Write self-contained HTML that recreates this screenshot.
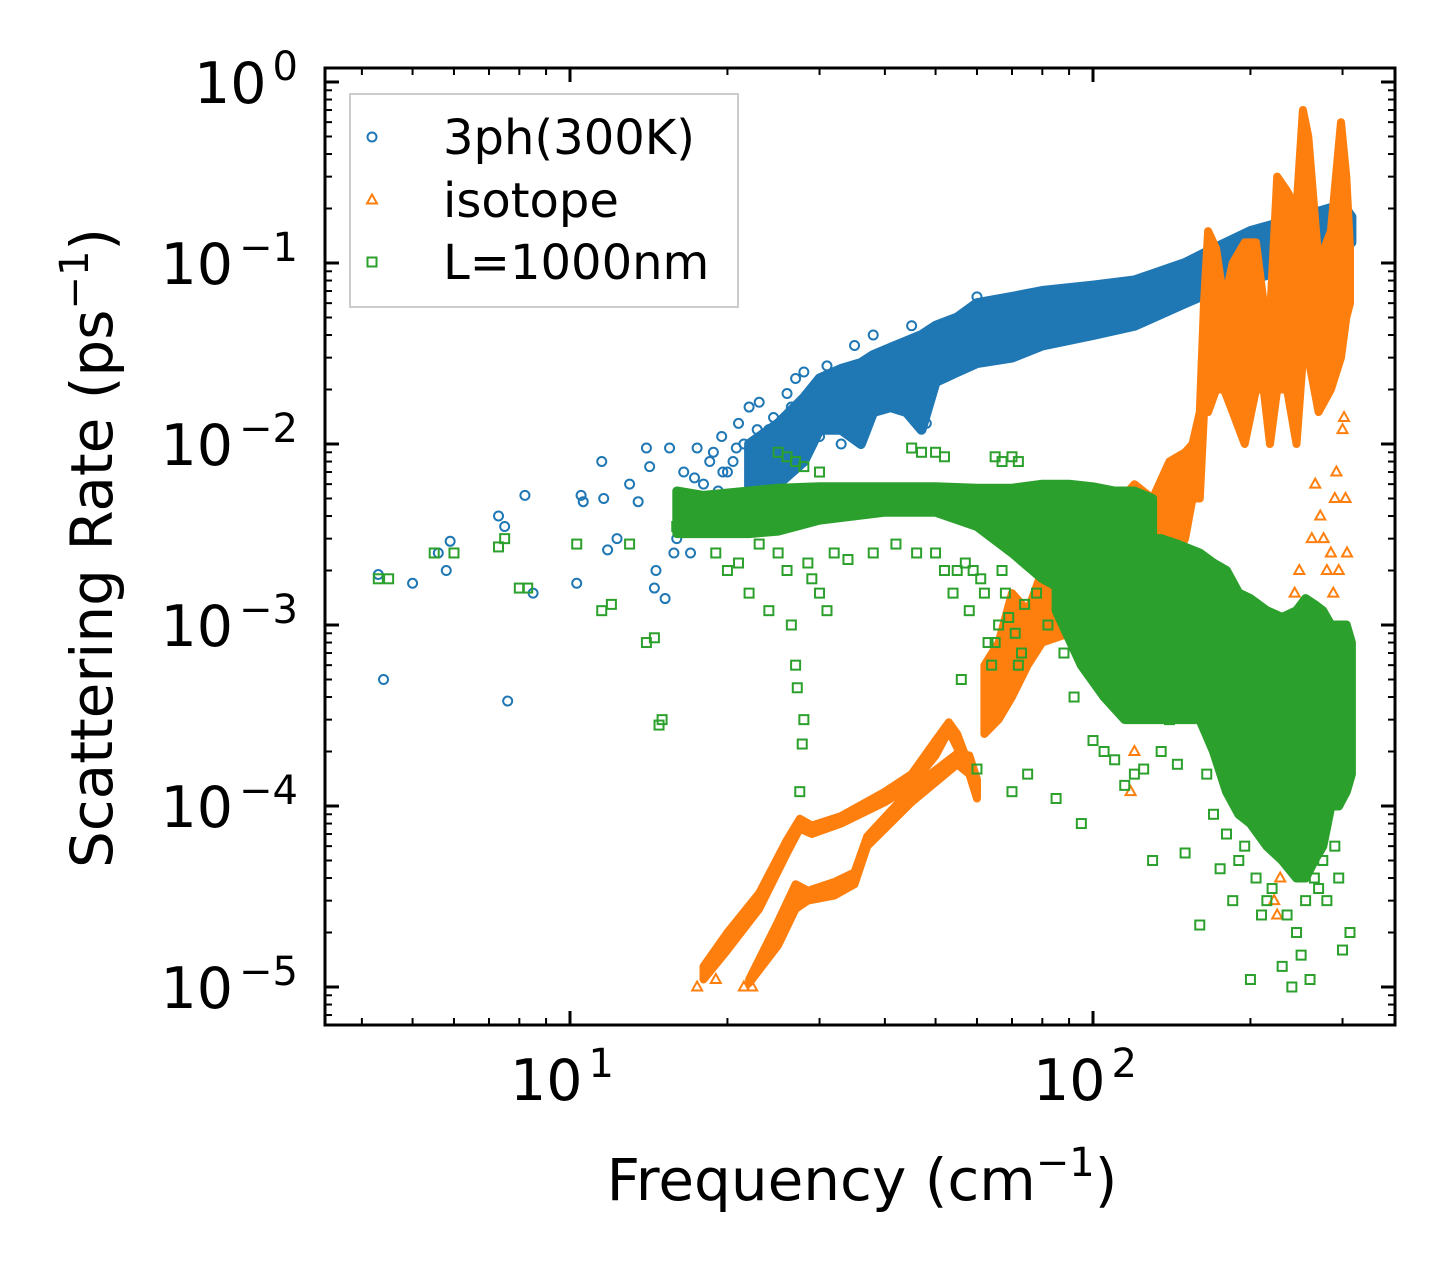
<!DOCTYPE html>
<html><head><meta charset="utf-8"><style>
html,body{margin:0;padding:0;background:#fff}
svg text{font-family:"DejaVu Sans","Liberation Sans",sans-serif;fill:#000}
</style></head><body>
<svg id="chart" width="1455" height="1275" viewBox="0 0 1455 1275" xmlns="http://www.w3.org/2000/svg">
<g id="layers"></g><g id="axes"></g>
</svg>
<script>
// ---- data ----
const blueFreq=[4.3,4.4,5,5.6,5.8,5.9,7.3,7.6,7.5,8.2,8.5,10.3,10.5,10.6,11.5,11.6,11.8,12.3,13.0,13.5,14,14.2,14.5,14.6,15.2,15.5,16,16.5,17.5,17,18,18.5,19,19.5,20,21,19.8,22,23,24,26,27,28,30,31,33,35,36,38,45,48,60,16.8,17.3,18.3,18.8,19.2,20.5,21.5,22.5,23.5,24.5,25.5,26.5,27.5,28.5,29.5,16.2,15.8,17.8,19.6,20.8,21.8,22.8,23.8];
const blueRate=[1.9e-3,5e-4,1.7e-3,2.5e-3,2e-3,2.9e-3,4e-3,3.8e-4,3.5e-3,5.2e-3,1.5e-3,1.7e-3,5.2e-3,4.8e-3,8e-3,5e-3,2.6e-3,3e-3,6e-3,4.8e-3,9.5e-3,7.5e-3,1.6e-3,2e-3,1.4e-3,9.5e-3,3e-3,7e-3,9.5e-3,2.5e-3,6e-3,8e-3,4e-3,1.1e-2,7e-3,1.3e-2,3.5e-3,1.6e-2,1.7e-2,1.2e-2,1.9e-2,2.3e-2,2.5e-2,1.1e-2,2.7e-2,1.0e-2,3.5e-2,1.1e-2,4e-2,4.5e-2,1.3e-2,6.5e-2,4e-3,6.5e-3,3.5e-3,9e-3,5.5e-3,8e-3,1e-2,6e-3,9e-3,1.4e-2,1.1e-2,1.6e-2,1.3e-2,1.8e-2,2e-2,3.5e-3,2.5e-3,4.5e-3,7e-3,9.5e-3,5e-3,1.2e-2,8e-3];
const blueBandF=[22,25,28,30,33,36,38,41,44,47,50,55,60,70,80,100,120,150,170,200,250,300,312];
const blueBandLo=[5e-3,6e-3,8e-3,1.2e-2,1.2e-2,1.0e-2,1.5e-2,1.6e-2,1.5e-2,1.2e-2,2.2e-2,2.5e-2,2.8e-2,3e-2,3.5e-2,4e-2,4.5e-2,6e-2,7e-2,8e-2,1e-1,1.2e-1,1.3e-1];
const blueBandHi=[1.0e-2,1.3e-2,1.8e-2,2.3e-2,2.6e-2,2.8e-2,3.1e-2,3.4e-2,3.7e-2,4e-2,4.5e-2,5e-2,6e-2,6.5e-2,7e-2,7.5e-2,8e-2,1e-1,1.2e-1,1.5e-1,1.8e-1,2.1e-1,1.8e-1];

const orgFreq=[17.5,18.2,19,21.5,22.3,120,140,150,225,228,232,236,240,245,260,265,270,285,290,295,300,305,306,222,226,229,234,238,243,248,262,266,272,276,280,288,292,302,304,118];
const orgRate=[1e-5,1.3e-5,1.1e-5,1e-5,1e-5,2e-4,5e-4,1.5e-3,2.5e-5,4e-5,8e-5,2e-4,5e-4,1e-3,1e-3,4e-4,2e-4,2.5e-3,5e-3,2e-3,1.2e-2,8e-4,2.5e-3,3e-5,6e-5,1.2e-4,3e-4,7e-4,1.5e-3,2e-3,3e-3,6e-3,4e-3,3e-3,2e-3,1.5e-3,7e-3,1.4e-2,5e-3,1.2e-4];
const orgBandAF=[18,20,23,26,27.5,29,33,40,45,50,53,55,57];
const orgBandALo=[1.1e-5,1.6e-5,2.7e-5,5.5e-5,7.5e-5,7e-5,8e-5,1.05e-4,1.3e-4,1.9e-4,2.6e-4,2.1e-4,1.6e-4];
const orgBandAHi=[1.3e-5,2e-5,3.3e-5,6.5e-5,8.5e-5,7.8e-5,8.8e-5,1.2e-4,1.5e-4,2.3e-4,2.9e-4,2.5e-4,1.9e-4];
const orgBandBF=[22,25,27,28.5,32,35,37,45,55,58,60];
const orgBandBLo=[1.05e-5,1.7e-5,2.7e-5,3e-5,3.2e-5,3.7e-5,6e-5,1.05e-4,1.7e-4,1.5e-4,1.1e-4];
const orgBandBHi=[1.1e-5,2.3e-5,3.7e-5,3.4e-5,3.8e-5,4.3e-5,6.8e-5,1.25e-4,1.95e-4,1.9e-4,1.4e-4];
const orgBandCF=[62,66,70,75,80,90,100,110,120,130,140,150,155,160,163,166,172,178,185,195,205,212,218,225,235,245,252,258,270,285,298,305,310];
const orgBandCLo=[2.5e-4,3e-4,4e-4,6e-4,8e-4,9e-4,1e-3,1.2e-3,1.5e-3,1.8e-3,2e-3,3e-3,5e-3,5e-3,1.5e-2,1.5e-2,2e-2,2e-2,1.5e-2,1e-2,2e-2,2e-2,1e-2,2e-2,2e-2,1e-2,3e-2,3e-2,1.5e-2,2e-2,3e-2,5e-2,6e-2];
const orgBandCHi=[6e-4,8e-4,1.5e-3,1.2e-3,2e-3,2.5e-3,4e-3,4.5e-3,6e-3,5e-3,8e-3,9e-3,1e-2,1.5e-2,6e-2,1.5e-1,1.2e-1,6e-2,1e-1,1.3e-1,1.3e-1,6e-2,5e-2,3e-1,2.5e-1,2e-1,7e-1,5e-1,1e-1,1.5e-1,6e-1,3e-1,1.2e-1];

const grnFreq=[4.3,4.5,5.5,6,7.3,7.5,8,8.3,10.3,11.5,12,13,14,14.5,14.8,15,16,20,22,24,26.5,27,27.2,27.5,27.8,28,29,30,31,56,60,62,65,70,72,75,85,95,100,115,120,130,150,160,175,185,200,210,230,240,250,260,280,300,310,
  19,21,23,25,26,28.5,32,34,38,42,46,50,52,54,55,57,58,59,61,63,64,66,67,68,69,71,73,74,76,78,82,88,92,105,110,125,135,140,145,165,170,180,190,195,205,215,220,235,245,255,265,270,275,290,295];
const grnRate=[1.8e-3,1.8e-3,2.5e-3,2.5e-3,2.7e-3,3e-3,1.6e-3,1.6e-3,2.8e-3,1.2e-3,1.3e-3,2.8e-3,8e-4,8.5e-4,2.8e-4,3e-4,3.5e-3,2e-3,1.5e-3,1.2e-3,1e-3,6e-4,4.5e-4,1.2e-4,2.2e-4,3e-4,1.8e-3,1.5e-3,1.2e-3,5e-4,1.6e-4,1.5e-3,8e-4,1.2e-4,6e-4,1.5e-4,1.1e-4,8e-5,2.3e-4,1.3e-4,1.5e-4,5e-5,5.5e-5,2.2e-5,4.5e-5,3e-5,1.1e-5,2.5e-5,1.3e-5,1e-5,1.5e-5,1.1e-5,3e-5,1.6e-5,2e-5,
  2.5e-3,2.2e-3,2.8e-3,2.5e-3,2e-3,2.2e-3,2.5e-3,2.3e-3,2.5e-3,2.8e-3,2.5e-3,2.5e-3,2e-3,1.5e-3,2e-3,2.2e-3,1.2e-3,2e-3,1.8e-3,8e-4,6e-4,1e-3,2e-3,1.5e-3,1.1e-3,9e-4,7e-4,1.3e-3,2.5e-3,1.5e-3,1e-3,7e-4,4e-4,2e-4,1.8e-4,1.6e-4,2e-4,3e-4,1.7e-4,1.5e-4,9e-5,7e-5,5e-5,6e-5,4e-5,3e-5,3.5e-5,2.5e-5,2e-5,3e-5,4e-5,3.5e-5,5e-5,6e-5,4e-5];
const grnBandAF=[16,18,22,25,30,40,50,60,70,80,90,100,110,120,130];
const grnBandALo=[3.2e-3,3.2e-3,3.2e-3,3.3e-3,3.8e-3,4.2e-3,4.2e-3,3.5e-3,2.5e-3,1.8e-3,1.5e-3,1.2e-3,1e-3,1e-3,1e-3];
const grnBandAHi=[5.5e-3,5.2e-3,5.5e-3,5.7e-3,5.8e-3,5.8e-3,5.8e-3,5.7e-3,5.7e-3,6e-3,6e-3,5.8e-3,5.5e-3,5.5e-3,5e-3];
const grnBandBF=[85,95,105,115,125,135,145,160,170,180,190,200,215,230,245,255,265,275,285,295,305,312];
const grnBandBLo=[1.2e-3,6e-4,4e-4,3e-4,3e-4,3e-4,3e-4,3e-4,2e-4,1.2e-4,9e-5,8e-5,6e-5,5e-5,4e-5,4e-5,5e-5,6e-5,1e-4,1e-4,1.2e-4,1.5e-4];
const grnBandBHi=[3e-3,3e-3,3e-3,3e-3,3e-3,3e-3,2.8e-3,2.5e-3,2.2e-3,2e-3,1.5e-3,1.4e-3,1.2e-3,1.1e-3,1.2e-3,1.4e-3,1.3e-3,1.2e-3,1e-3,1e-3,1e-3,8e-4];
const grnLineF=[25,26,27,28,30,45,47,50,52,65,67,70,72];
const grnLineR=[9e-3,8.5e-3,8e-3,7.5e-3,7e-3,9.5e-3,9e-3,9e-3,8.5e-3,8.5e-3,8e-3,8.5e-3,8e-3];

const yTickExp=[0,-1,-2,-3,-4,-5];
const xTickExp=[1,2];

// ---- axes ----
const X0=325,X1=1395,Y0=68,Y1=1025;
const px=f=>570+523*(Math.log10(f)-1);
const py=r=>82-181*Math.log10(r);
const NS="http://www.w3.org/2000/svg";
function mk(tag,attrs,parent){const e=document.createElementNS(NS,tag);for(const k in attrs)e.setAttribute(k,attrs[k]);parent.appendChild(e);return e;}
const layers=document.getElementById('layers'),axes=document.getElementById('axes');

function band(F,Lo,Hi,color,name,sw){
  let d='';
  F.forEach((f,i)=>{d+=(i?'L':'M')+px(f).toFixed(1)+' '+py(Hi[i]).toFixed(1);});
  for(let i=F.length-1;i>=0;i--)d+='L'+px(F[i]).toFixed(1)+' '+py(Lo[i]).toFixed(1);
  const p=mk('path',{d:d+'Z',fill:color,stroke:color,'stroke-width':sw||9,'stroke-linejoin':'round'},layers);
  
  
}
function marker(type,x,y,color,parent){
  let e;
  if(type==='o')e=mk('circle',{cx:x,cy:y,r:4.5,fill:'none',stroke:color,'stroke-width':2},parent);
  else if(type==='s')e=mk('rect',{x:x-4.5,y:y-4.5,width:9,height:9,fill:'none',stroke:color,'stroke-width':2},parent);
  else e=mk('path',{d:`M${x} ${y-5.5}L${x+5} ${y+3.5}L${x-5} ${y+3.5}Z`,fill:'none',stroke:color,'stroke-width':2},parent);
  return e;
}
function scatter(F,R,type,color,name){
  const g=mk('g',{},layers);
  
  
  F.forEach((f,i)=>{const m=marker(type,px(f),py(R[i]),color,g);
    
    });
}
const BLUE='#1f77b4',ORG='#ff7f0e',GRN='#2ca02c';
band(blueBandF,blueBandLo,blueBandHi,BLUE,'3ph-dense-band',10);
scatter(blueFreq,blueRate,'o',BLUE,'3ph-series');
band(orgBandAF,orgBandALo,orgBandAHi,ORG,'isotope-band-a',8);
band(orgBandBF,orgBandBLo,orgBandBHi,ORG,'isotope-band-b',8);
band(orgBandCF,orgBandCLo,orgBandCHi,ORG,'isotope-band-c',8);
scatter(orgFreq,orgRate,'^',ORG,'isotope-series');
band(grnBandAF,grnBandALo,grnBandAHi,GRN,'boundary-band-upper',9);
band(grnBandBF,grnBandBLo,grnBandBHi,GRN,'boundary-band-lower',9);
scatter(grnFreq,grnRate,'s',GRN,'boundary-series');
scatter(grnLineF,grnLineR,'s',GRN,'boundary-upper-branch');

const fr=mk('rect',{x:X0,y:Y0,width:X1-X0,height:Y1-Y0,fill:'none',stroke:'#000','stroke-width':3},axes);


for(let e=-6;e<=0;e++){for(let m=1;m<10;m++){const v=m*Math.pow(10,e);const y=py(v);if(y<Y0||y>Y1)continue;
  const L=m===1?14:7,w=m===1?3:2;
  mk('line',{x1:X0,x2:X0+L,y1:y,y2:y,stroke:'#000','stroke-width':w},axes);
  mk('line',{x1:X1,x2:X1-L,y1:y,y2:y,stroke:'#000','stroke-width':w},axes);}}
yTickExp.forEach(e=>{const t=mk('text',{x:298,y:py(Math.pow(10,e))+21,'font-size':57,'text-anchor':'end'},axes);
  
  
  t.innerHTML='10<tspan dx="6" dy="-23" font-size="40">'+(e<0?'\u2212'+(-e):e)+'</tspan>';});
for(let e=0;e<=3;e++){for(let m=1;m<10;m++){const v=m*Math.pow(10,e);const x=px(v);if(x<X0||x>X1)continue;
  const L=m===1?14:7,w=m===1?3:2;
  mk('line',{x1:x,x2:x,y1:Y1,y2:Y1-L,stroke:'#000','stroke-width':w},axes);
  mk('line',{x1:x,x2:x,y1:Y0,y2:Y0+L,stroke:'#000','stroke-width':w},axes);}}
xTickExp.forEach(e=>{const t=mk('text',{x:px(Math.pow(10,e))-8,y:1100,'font-size':57,'text-anchor':'middle'},axes);
  
  
  t.innerHTML='10<tspan dx="6" dy="-23" font-size="40">'+e+'</tspan>';});
</script>
<svg style="position:absolute;left:0;top:0" width="1455" height="1275" xmlns="http://www.w3.org/2000/svg">
<text x="862" y="1200" font-size="58" text-anchor="middle">Frequency (cm<tspan dy="-24" font-size="40">−1</tspan><tspan dy="24">)</tspan></text>
<text transform="translate(112,548) rotate(-90)" font-size="58" text-anchor="middle">Scattering Rate (ps<tspan dy="-24" font-size="40">−1</tspan><tspan dy="24">)</tspan></text>
<g>
<rect x="350" y="94" width="388" height="213" fill="#fff" fill-opacity="0.8" stroke="#ccc" stroke-width="2"/>
<circle cx="372" cy="137" r="4.5" fill="none" stroke="#1f77b4" stroke-width="2"/>
<text x="443" y="154" font-size="48">3ph(300K)</text>
<path d="M372 194.5L377 203.5L367 203.5Z" fill="none" stroke="#ff7f0e" stroke-width="2"/>
<text x="443" y="217" font-size="48">isotope</text>
<rect x="367.5" y="257.5" width="9" height="9" fill="none" stroke="#2ca02c" stroke-width="2"/>
<text x="443" y="279" font-size="48">L=1000nm</text>
</g>
</svg>
</body></html>
